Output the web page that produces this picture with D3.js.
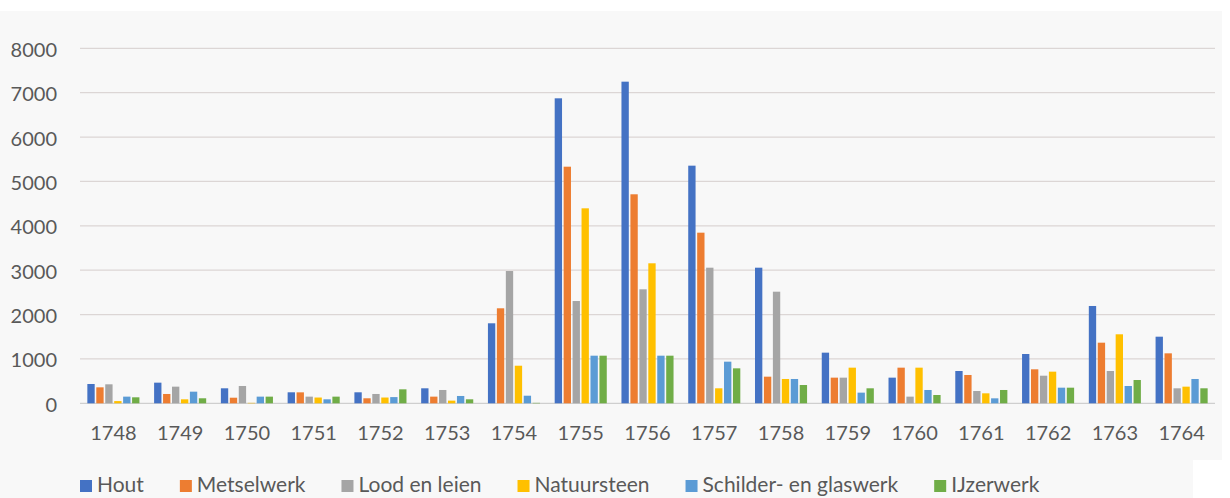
<!DOCTYPE html>
<html>
<head>
<meta charset="utf-8">
<script src="https://cdn.jsdelivr.net/npm/d3@7"></script>
<style>
  html, body { margin: 0; padding: 0; background: #ffffff; }
  svg { display: block; }
  text { font-family: Lato, "Open Sans", sans-serif; fill: #595959; }
</style>
</head>
<body>
<script>
// Bouwkosten per jaar en per onderdeel
const years = ["1748","1749","1750","1751","1752","1753","1754","1755","1756","1757","1758","1759","1760","1761","1762","1763","1764"];
const seriesNames = ["Hout","Metselwerk","Lood en leien","Natuursteen","Schilder- en glaswerk","IJzerwerk"];
const hout        = [435, 465, 338, 248, 248, 338, 1803, 6873, 7248, 5355, 3056, 1141, 578, 728, 1111, 2193, 1501];
const metselwerk  = [360, 210, 126, 247, 113, 150, 2141, 5332, 4710, 3845, 600, 578, 803, 638, 766, 1366, 1126];
const loodEnLeien = [428, 375, 390, 150, 210, 300, 2981, 2305, 2569, 3056, 2515, 578, 150, 277, 622, 728, 338];
const natuursteen = [50, 90, 10, 130, 130, 60, 847, 4394, 3155, 338, 548, 803, 803, 225, 713, 1555, 375];
const schilderGlas = [150, 262, 150, 90, 140, 165, 171, 1073, 1073, 938, 548, 240, 300, 112, 352, 390, 548];
const ijzerwerk   = [135, 113, 150, 150, 315, 90, 10, 1073, 1073, 788, 412, 338, 187, 300, 352, 525, 338];
const yTicks = [0, 1000, 2000, 3000, 4000, 5000, 6000, 7000, 8000];

const seriesValues = [hout, metselwerk, loodEnLeien, natuursteen, schilderGlas, ijzerwerk];
const colors = ["#4472C4", "#ED7D31", "#A5A5A5", "#FFC000", "#5B9BD5", "#70AD47"];

const W = 1230, H = 498;
const svg = d3.select("body").append("svg").attr("width", W).attr("height", H);

// chart area background
svg.append("rect").attr("x", 0).attr("y", 11).attr("width", 1222).attr("height", H - 11).attr("fill", "#f8f8f8");
svg.append("rect").attr("x", 1193).attr("y", 460).attr("width", W - 1193).attr("height", H - 460).attr("fill", "#ffffff");

const plot = { left: 80, right: 1215, top: 48.3, bottom: 403.3 };

const x0 = d3.scaleBand().domain(years).range([plot.left, plot.right]).paddingInner(0).paddingOuter(0);
const x1 = d3.scaleBand().domain(seriesNames)
  .range([x0.bandwidth() * 0.11, x0.bandwidth() * 0.89]).paddingInner(0.18);
const y = d3.scaleLinear().domain([0, 8000]).range([plot.bottom, plot.top]);

// gridlines
svg.append("g").selectAll("line").data(yTicks).join("line")
  .attr("x1", plot.left).attr("x2", plot.right)
  .attr("y1", d => y(d)).attr("y2", d => y(d))
  .attr("stroke", d => d === 0 ? "#cfcfcf" : "#dcd6d5").attr("stroke-width", 1.3);

// y axis labels
const yAxis = d3.axisLeft(y).tickValues(yTicks).tickSize(0).tickPadding(0).tickFormat(d3.format("d"));
const gy = svg.append("g").attr("transform", `translate(57,0)`).call(yAxis);
gy.select(".domain").remove();
gy.selectAll("text").attr("font-size", 20).attr("dy", "0.4em")
  .style("font-family", "Lato, sans-serif").style("fill", "#595959");

// x axis labels
const xAxis = d3.axisBottom(x0).tickSize(0).tickPadding(0);
const gx = svg.append("g").attr("transform", `translate(0,426)`).call(xAxis);
gx.select(".domain").remove();
gx.selectAll("text").attr("font-size", 20).attr("dy", "0.72em")
  .style("font-family", "Lato, sans-serif").style("fill", "#595959");

// bars
const groups = svg.append("g").selectAll("g").data(years).join("g")
  .attr("transform", d => `translate(${x0(d)},0)`);
groups.selectAll("rect")
  .data((yr, i) => seriesNames.map((s, k) => ({ s, k, v: seriesValues[k][i] })))
  .join("rect")
  .attr("x", d => x1(d.s))
  .attr("width", x1.bandwidth())
  .attr("y", d => y(d.v))
  .attr("height", d => y(0) - y(d.v))
  .attr("fill", d => colors[d.k]);

// legend
const legend = svg.append("g");
let lx = 80;
seriesNames.forEach((name, k) => {
  const item = legend.append("g").attr("transform", `translate(${lx},0)`);
  item.append("rect").attr("x", 0).attr("y", 480).attr("width", 12).attr("height", 12).attr("fill", colors[k]);
  const t = item.append("text").attr("x", 17).attr("y", 492).attr("font-size", 21).text(name);
  lx += 17 + t.node().getComputedTextLength() + 36;
});
</script>
</body>
</html>
